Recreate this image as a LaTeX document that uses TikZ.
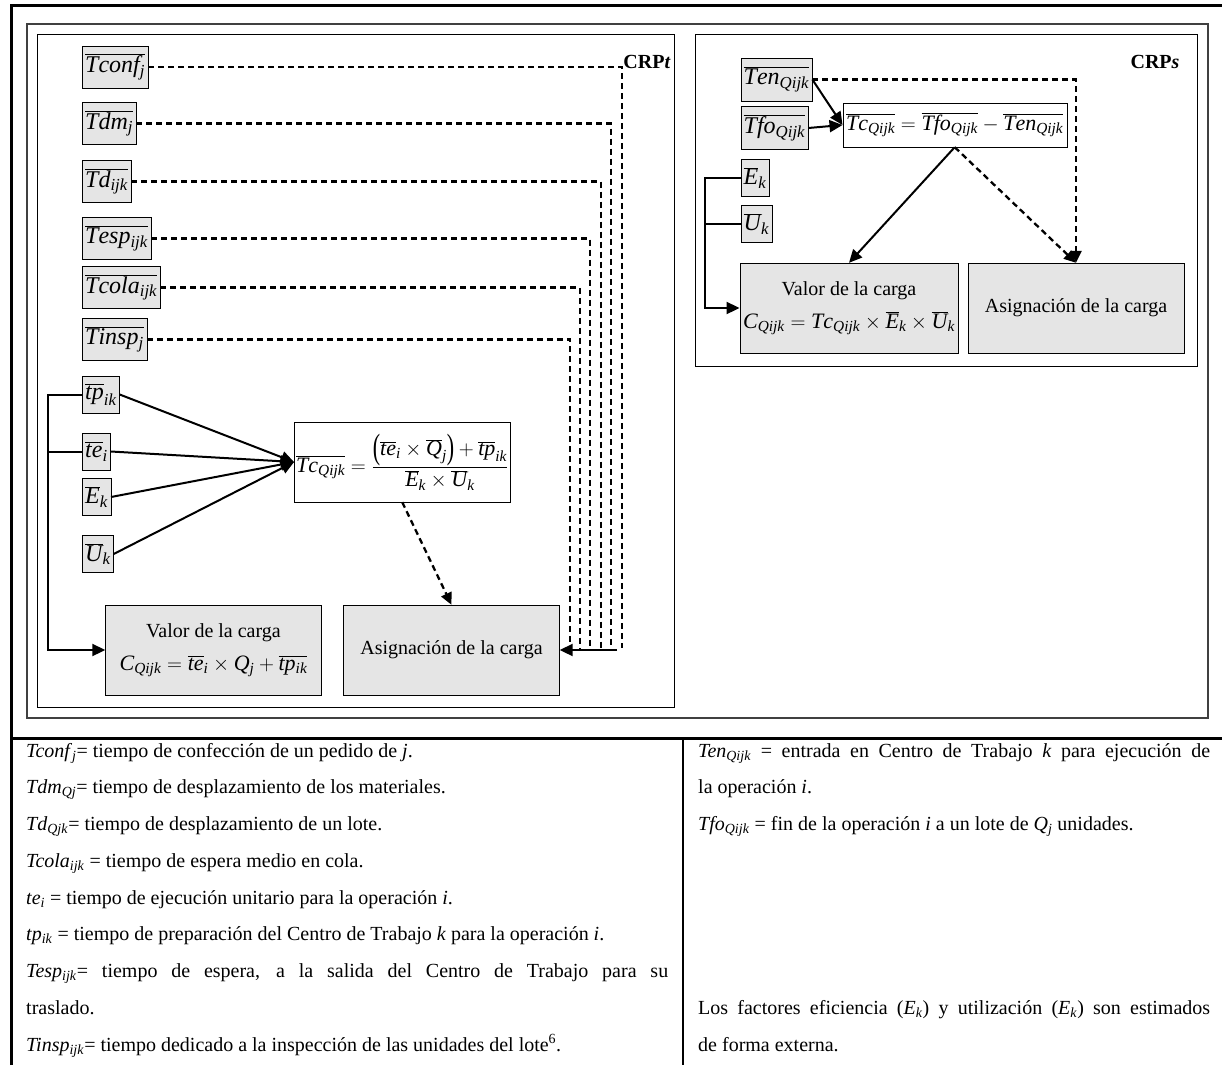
\documentclass[tikz,border=0pt]{standalone}
\usepackage{graphicx}
\usepackage{fontspec}
\setmainfont{Liberation Serif}
\DeclareSymbolFont{letters}{TU}{\rmdefault}{m}{it}
\usetikzlibrary{arrows.meta}
\newcommand{\txtsize}{\fontsize{20}{24}\selectfont}
\newcommand{\eqsize}{\fontsize{22}{26}\selectfont}
\newcommand{\tallparen}[1]{\raisebox{-2.5pt}{\scalebox{1}[1.6]{#1}}}

\begin{document}
\begin{tikzpicture}[x=1pt,y=-1pt,
 v/.style={draw,fill=gray!20,inner xsep=3pt,inner ysep=0pt,minimum height=42pt,anchor=west,font=\fontsize{24}{28}\selectfont},
 vs/.style={v,minimum height=37pt},
 frm/.style={draw,fill=white,inner sep=2pt,anchor=west,font=\eqsize},
 blk/.style={draw,fill=gray!20,minimum width=216pt,minimum height=90pt,align=center,font=\txtsize},
 arr/.style={line width=2pt,-{Triangle[length=13pt,width=12pt]}},
 dline/.style={line width=2.3pt,dash pattern=on 6pt off 4pt},
 note/.style={anchor=base west,inner sep=0pt,font=\txtsize}]
 \useasboundingbox (0,0) rectangle (1222,1065);
 % table and panels
 \draw[line width=3pt] (11,1065) -- (11,6) -- (1222,6) (11,738) -- (1222,738);
 \draw[line width=2.5pt] (683,738) -- (683,1065);
 \draw[line width=1.2pt,draw=black!75] (27,24) rectangle (1208,718);
 \draw[line width=1pt] (37,35) rectangle (674,707);
 \draw[line width=1pt] (695,35) rectangle (1197,366);

 % CRPt
 \node[font=\txtsize\bfseries] (crpt) at (647,62) {CRP\textit{t}};
 \node[v] (tconf) at (82,67) {$\overline{Tconf_j}$};
 \node[v] (tdm) at (82,123.5) {$\overline{Tdm_j}$};
 \node[v] (td) at (82,181.5) {$\overline{Td_{ijk}}$};
 \node[v] (tesp) at (82,238.5) {$\overline{Tesp_{ijk}}$};
 \node[v] (tcola) at (82,287.5) {$\overline{Tcola_{ijk}}$};
 \node[v] (tinsp) at (82,339.5) {$\overline{Tinsp_j}$};
 \node[vs] (tp) at (82,394.5) {$\overline{tp}_{ik}$};
 \node[vs] (te) at (82,451.5) {$\overline{te}_i$};
 \node[vs] (ek) at (82,497) {$\overline{E}_k$};
 \node[vs] (uk) at (82,554) {$\overline{U}_k$};
 \node[frm,minimum width=210pt,minimum height=80pt] (tct) at (294,462)
   {$\displaystyle\overline{Tc_{Qijk}}=\frac{\mathopen{\tallparen{(}}\overline{te}_i\times\overline{Q}_j\mathclose{\tallparen{)}}+\overline{tp}_{ik}}{\overline{E}_k\times\overline{U}_k}$};
 \node[blk] (valt) at (213.5,650) {Valor de la carga\\[9pt]{\eqsize$C_{Qijk}=\overline{te}_i\times Q_j+\overline{tp_{ik}}$}};
 \node[blk] (asgt) at (451.5,650) {Asignación de la carga};
 \coordinate (bt) at (48,394.5);
 \draw[arr] (tp.west) -- (bt) |- (valt.west);
 \draw[line width=2pt] (te.west) -- (te.west -| bt);
 \foreach \n in {tp,te,ek,uk}
   \draw[arr] (\n.east) -- (tct.west);
 \foreach \n/\x in {tconf/622,tdm/611,td/601,tesp/590,tcola/580,tinsp/570}{
   \coordinate (e\n) at (\x,648);
   \draw[dline] (\n.east) -| (e\n);
 }
 \coordinate (bin) at (617,650);
 \draw[arr] (bin) -- (asgt.east);
 \draw[dline,-{Triangle[length=12pt,width=11pt]}] (tct.south) -- (asgt.north);

 % CRPs
 \node[font=\txtsize\bfseries] (crps) at (1155,62) {CRP\textit{s}};
 \node[v,minimum height=43pt] (ten) at (740.5,79.5) {$\overline{Ten_{Qijk}}$};
 \node[v,minimum height=43pt] (tfo) at (740.5,128) {$\overline{Tfo_{Qijk}}$};
 \node[vs] (eks) at (740.5,178) {$\overline{E}_k$};
 \node[vs] (uks) at (740.5,224) {$\overline{U}_k$};
 \node[frm,minimum width=224pt,minimum height=44pt] (tcs) at (842.5,125)
   {$\overline{Tc_{Qijk}}=\overline{Tfo_{Qijk}}-\overline{Ten_{Qijk}}$};
 \node[blk] (vals) at (849,308) {Valor de la carga\\[9pt]{\eqsize$C_{Qijk}=Tc_{Qijk}\times\overline{E}_k\times\overline{U}_k$}};
 \node[blk] (asgs) at (1076,308) {Asignación de la carga};
 \coordinate (bs) at (705,178);
 \draw[arr] (eks.west) -- (bs) |- (vals.west);
 \draw[line width=2pt] (uks.west) -- (uks.west -| bs);
 \draw[arr] (ten.east) -- (tcs.west);
 \draw[arr] (tfo.east) -- (tcs.west);
 \draw[arr] (tcs.south) -- (vals.north);
 \draw[dline,-{Triangle[length=12pt,width=11pt]}] (tcs.south) -- (asgs.north);
 \draw[dline,-{Triangle[length=12pt,width=11pt]}] (ten.east) -| (asgs.north);

 % legend
 \node[note] (l1) at (26,757) {\textit{Tconf}\textsubscript{\textit{j}}= tiempo de confección de un pedido de \textit{j}.};
 \node[note] (l2) at (26,793.75) {\textit{Tdm}\textsubscript{\textit{Qj}}= tiempo de desplazamiento de los materiales.};
 \node[note] (l3) at (26,830.5) {\textit{Td}\textsubscript{\textit{Qjk}}= tiempo de desplazamiento de un lote.};
 \node[note] (l4) at (26,867.25) {\textit{Tcola}\textsubscript{\textit{ijk}} = tiempo de espera medio en cola.};
 \node[note] (l5) at (26,904) {\textit{te}\textsubscript{\textit{i}} = tiempo de ejecución unitario para la operación \textit{i}.};
 \node[note] (l6) at (26,940.75) {\textit{tp}\textsubscript{\textit{ik}} = tiempo de preparación del Centro de Trabajo \textit{k} para la operación \textit{i}.};
 \node[note] (l7) at (26,977.5) {\makebox[642pt][s]{\textit{Tesp}\textsubscript{\textit{ijk}}= tiempo de espera, a la salida del Centro de Trabajo para su}};
 \node[note] (l8) at (26,1014.25) {traslado.};
 \node[note] (l9) at (26,1051) {\textit{Tinsp}\textsubscript{\textit{ijk}}= tiempo dedicado a la inspección de las unidades del lote\textsuperscript{6}.};
 \node[note] (r1) at (698,757) {\makebox[512pt][s]{\textit{Ten}\textsubscript{\textit{Qijk}} = entrada en Centro de Trabajo \textit{k} para ejecución de}};
 \node[note] (r2) at (698,793.75) {la operación \textit{i}.};
 \node[note] (r3) at (698,830.5) {\textit{Tfo}\textsubscript{\textit{Qijk}} = fin de la operación \textit{i} a un lote de \textit{Q}\textsubscript{\textit{j}} unidades.};
 \node[note] (r8) at (698,1014.25) {\makebox[512pt][s]{Los factores eficiencia (\textit{E}\textsubscript{\textit{k}}) y utilización (\textit{E}\textsubscript{\textit{k}}) son estimados}};
 \node[note] (r9) at (698,1051) {de forma externa.};
\end{tikzpicture}
\end{document}
